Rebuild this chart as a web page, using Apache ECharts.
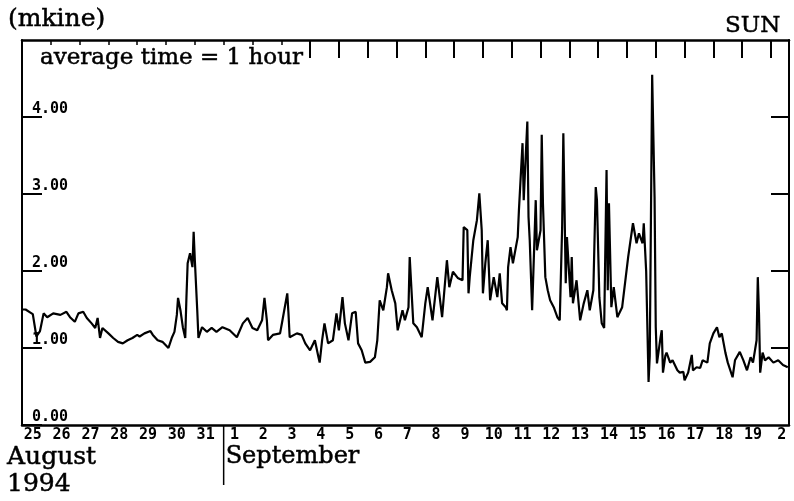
<!DOCTYPE html>
<html>
<head>
<meta charset="utf-8">
<script src="https://cdn.jsdelivr.net/npm/echarts@6/dist/echarts.min.js"></script>
<style>
html, body { margin: 0; padding: 0; background: #fff; }
#main { width: 794px; height: 501px; }
</style>
</head>
<body>
<div id="main"></div>
<script>
// hours since 25 Aug 1994 00:00, hourly averages (mkine)
var hours = [0, 3, 7, 9, 12, 15, 18, 21, 26, 32, 37, 40, 44, 47, 51, 54, 58, 61, 63, 65,
    67, 72, 76, 80, 84, 88, 92, 96, 98, 102, 107, 109, 113, 117, 122, 125, 127, 129, 130, 132,
    134, 136, 137, 138, 140, 142, 143, 144, 146, 147, 150, 154, 158, 162, 167, 173, 179, 184, 188, 192,
    196, 200, 202, 204, 205, 209, 215, 217, 221, 222, 223, 229, 233, 236, 240, 244, 247, 248, 250, 252,
    255, 259, 262, 264, 267, 269, 272, 275, 278, 280, 283, 286, 290, 294, 296, 298, 301, 304, 305, 308,
    311, 313, 317, 319, 322, 323, 326, 329, 333, 336, 338, 342, 346, 350, 354, 356, 359, 363, 367, 368,
    371, 372, 373, 376, 379, 381, 383, 384, 386, 388, 390, 393, 396, 398, 400, 403, 404, 405, 407, 409,
    413, 414, 417, 418, 419, 421, 422, 423, 425, 428, 429, 432, 433, 434, 436, 438, 440, 443, 446, 448,
    450, 451, 453, 454, 457, 458, 459, 462, 465, 468, 471, 473, 476, 478, 479, 481, 483, 485, 487, 488,
    489, 491, 493, 496, 500, 503, 505, 509, 512, 514, 517, 518, 520, 522, 523, 525, 527, 528, 529, 532,
    533, 534, 536, 537, 540, 542, 546, 548, 551, 552, 555, 558, 559, 562, 565, 567, 571, 573, 576, 579,
    581, 583, 586, 588, 592, 594, 598, 601, 604, 607, 609, 612, 613, 614, 615, 617, 619, 622, 626, 630,
    634, 638];
var values = [1.50, 1.50, 1.46, 1.44, 1.15, 1.22, 1.45, 1.40, 1.45, 1.43, 1.47, 1.40, 1.34, 1.45, 1.47, 1.39, 1.32, 1.26, 1.39, 1.13,
    1.26, 1.19, 1.13, 1.08, 1.06, 1.10, 1.13, 1.17, 1.15, 1.19, 1.22, 1.17, 1.10, 1.08, 1.00, 1.14, 1.21, 1.43, 1.65, 1.49,
    1.27, 1.13, 1.66, 2.10, 2.23, 2.05, 2.51, 2.14, 1.49, 1.13, 1.27, 1.21, 1.26, 1.21, 1.27, 1.23, 1.14, 1.32, 1.39, 1.26,
    1.23, 1.36, 1.65, 1.36, 1.10, 1.17, 1.19, 1.36, 1.71, 1.45, 1.14, 1.19, 1.17, 1.06, 0.97, 1.10, 0.88, 0.81, 1.10, 1.32,
    1.06, 1.10, 1.45, 1.23, 1.66, 1.32, 1.10, 1.45, 1.47, 1.06, 0.97, 0.81, 0.82, 0.88, 1.10, 1.62, 1.49, 1.79, 1.97, 1.75,
    1.58, 1.23, 1.49, 1.36, 1.53, 2.18, 1.32, 1.27, 1.14, 1.58, 1.79, 1.36, 1.92, 1.40, 2.14, 1.79, 1.99, 1.91, 1.88, 2.57,
    2.53, 1.71, 1.92, 2.40, 2.66, 3.01, 2.53, 1.71, 2.10, 2.40, 1.62, 1.92, 1.66, 1.97, 1.58, 1.53, 1.49, 2.05, 2.31, 2.10,
    2.44, 2.79, 3.66, 2.92, 3.27, 3.94, 2.70, 2.40, 1.49, 2.92, 2.27, 2.53, 3.77, 2.88, 1.92, 1.75, 1.62, 1.53, 1.40, 1.36,
    2.57, 3.79, 1.84, 2.44, 1.66, 2.18, 1.58, 1.88, 1.36, 1.58, 1.75, 1.49, 1.75, 3.09, 2.92, 1.66, 1.32, 1.26, 3.31, 1.75,
    2.88, 1.53, 1.79, 1.40, 1.53, 1.92, 2.18, 2.62, 2.36, 2.49, 2.36, 2.62, 2.00, 0.56, 0.90, 4.55, 2.96, 1.27, 0.80, 1.14,
    1.23, 0.68, 0.90, 0.94, 0.81, 0.84, 0.71, 0.68, 0.69, 0.58, 0.68, 0.91, 0.71, 0.75, 0.74, 0.84, 0.81, 1.06, 1.19, 1.27,
    1.14, 1.19, 0.94, 0.81, 0.62, 0.84, 0.95, 0.84, 0.71, 0.88, 0.81, 1.10, 1.92, 1.45, 0.68, 0.94, 0.84, 0.88, 0.81, 0.84,
    0.78, 0.75];
var dayLabels = ['25', '26', '27', '28', '29', '30', '31', '1', '2', '3', '4', '5', '6', '7',
    '8', '9', '10', '11', '12', '13', '14', '15', '16', '17', '18', '19', '2'];
var yTicks = [0, 1, 2, 3, 4];
var sepStart = 168; // 1 September 00:00

var myChart = echarts.init(document.getElementById('main'));
var xMax = 639;
var monoFont = 'DejaVu Sans Mono';
var serifFont = 'DejaVu Serif';

var seriesData = hours.map(function (h, i) { return [h, values[i]]; });
var labelPos = dayLabels.map(function (d, i) { return i * 24 + 9; });
var shortTicks = [], longTicks = [];
for (var d = 1; d <= 26; d++) {
    if (d < 10) shortTicks.push(d * 24); else longTicks.push(d * 24);
}

function serifText(str, x, y, size) {
    return {
        type: 'text', x: x, y: y,
        style: {
            text: str, fontFamily: serifFont, fontSize: size, fill: '#000',
            stroke: '#000', lineWidth: 0.5, verticalAlign: 'top'
        }
    };
}

option = {
    backgroundColor: '#fff',
    animation: false,
    grid: { left: 22, right: 5, top: 40, bottom: 76 },
    xAxis: [
        {
            type: 'value', position: 'bottom', min: 0, max: xMax,
            splitLine: { show: false },
            axisLine: { show: true, lineStyle: { color: '#000', width: 2.5 } },
            axisTick: { show: false },
            axisLabel: {
                customValues: labelPos,
                margin: 3,
                fontFamily: monoFont, fontWeight: 'bold', fontSize: 15, color: '#000',
                formatter: function (v) { return dayLabels[Math.floor(v / 24)]; }
            }
        },
        {
            type: 'value', position: 'top', min: 0, max: xMax,
            splitLine: { show: false },
            axisLine: { show: true, onZero: false, lineStyle: { color: '#000', width: 2.5 } },
            axisTick: { show: true, inside: true, length: 5, customValues: shortTicks, lineStyle: { color: '#000', width: 1.5 } },
            axisLabel: { show: false }
        },
        {
            type: 'value', position: 'top', min: 0, max: xMax,
            splitLine: { show: false },
            axisLine: { show: false, onZero: false },
            axisTick: { show: true, inside: true, length: 18, customValues: longTicks, lineStyle: { color: '#000', width: 2 } },
            axisLabel: { show: false }
        }
    ],
    yAxis: [
        {
            type: 'value', position: 'left', min: 0, max: 5, interval: 1,
            splitLine: { show: false },
            axisLine: { show: true, onZero: false, lineStyle: { color: '#000', width: 2 } },
            axisTick: { show: true, inside: true, length: 20, customValues: yTicks, lineStyle: { color: '#000', width: 2 } },
            axisLabel: {
                inside: true, margin: 10, customValues: yTicks,
                verticalAlign: 'bottom',
                fontFamily: monoFont, fontWeight: 'bold', fontSize: 15, color: '#000',
                formatter: function (v) { return v.toFixed(2); }
            }
        },
        {
            type: 'value', position: 'right', min: 0, max: 5, interval: 1,
            splitLine: { show: false },
            axisLine: { show: true, onZero: false, lineStyle: { color: '#000', width: 2 } },
            axisTick: { show: true, inside: true, length: 18, customValues: [1, 2, 3, 4], lineStyle: { color: '#000', width: 2 } },
            axisLabel: { show: false }
        }
    ],
    series: [
        {
            type: 'line',
            xAxisIndex: 0,
            yAxisIndex: 0,
            showSymbol: false,
            lineStyle: { color: '#000', width: 2.2 },
            data: seriesData
        }
    ]
};

myChart.setOption(option);

// annotations placed from the axis scales
var sepX = myChart.convertToPixel({ xAxisIndex: 0 }, sepStart);
var baseY = myChart.convertToPixel({ yAxisIndex: 0 }, 0);
myChart.setOption({
    graphic: [
        serifText('(mkine)', 8, 7, 25),
        serifText('SUN', 725, 15, 23),
        serifText('average time = 1 hour', 40, 47, 23),
        serifText('August', 7, 445, 25),
        serifText('1994', 7, 472, 25),
        serifText('September', sepX + 2, 445, 24),
        { type: 'line', shape: { x1: sepX, y1: baseY, x2: sepX, y2: baseY + 60 }, style: { stroke: '#000', lineWidth: 1.5 } }
    ]
});
</script>
</body>
</html>
